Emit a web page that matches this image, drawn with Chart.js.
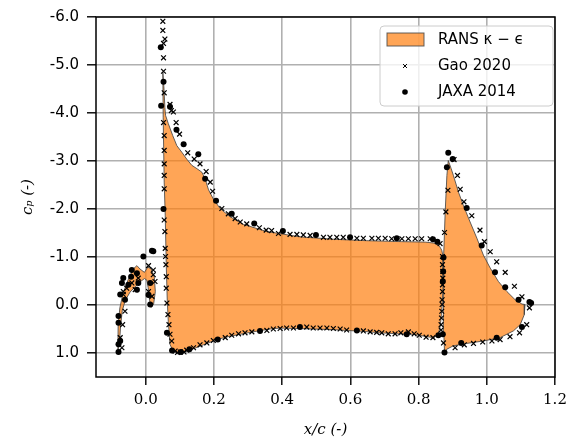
<!DOCTYPE html>
<html>
<head>
<meta charset="utf-8">
<script src="https://cdn.jsdelivr.net/npm/chart.js"></script>
<style>
  body { margin: 0; background: #fff; }
  #wrap { width: 575px; height: 441px; }
</style>
</head>
<body>
<div id="wrap"><canvas id="myChart"></canvas></div>
<script>
// RANS k-eps surface pressure, one closed outline per element
var slatX = [-0.082, -0.081, -0.076, -0.067, -0.052, -0.037, -0.026, -0.017, -0.004, 0.006, 0.016, 0.025, 0.028, 0.023, 0.016,
    0.011, 0.007, 0.003, -0.004, -0.017, -0.031, -0.046, -0.060, -0.069, -0.074, -0.077, -0.082];
var slatCp = [0.97, 0.41, 0.06, -0.24, -0.52, -0.75, -0.82, -0.75, -0.68, -0.79, -0.75, -0.58, -0.28, -0.02, 0.05,
    -0.10, -0.36, -0.52, -0.55, -0.48, -0.38, -0.27, -0.10, 0.12, 0.45, 0.78, 0.97];

var mainX = [0.050, 0.053, 0.056, 0.058, 0.066, 0.079, 0.091, 0.106, 0.120, 0.135, 0.150, 0.164, 0.174, 0.184, 0.198, 0.218,
    0.247, 0.286, 0.355, 0.452, 0.550, 0.648, 0.750, 0.820, 0.845, 0.860, 0.868, 0.872, 0.872, 0.869, 0.866, 0.862,
    0.856, 0.845, 0.824, 0.785, 0.740, 0.687, 0.640, 0.589, 0.540, 0.491, 0.440, 0.394, 0.365, 0.330, 0.306, 0.270,
    0.247, 0.208, 0.169, 0.130, 0.101, 0.088, 0.078, 0.071, 0.066, 0.063, 0.060, 0.057, 0.054, 0.051, 0.050];
var mainCp = [-4.85, -4.55, -4.11, -3.95, -3.78, -3.53, -3.32, -3.18, -3.04, -2.91, -2.84, -2.77, -2.63, -2.40, -2.21, -2.01,
    -1.84, -1.68, -1.53, -1.42, -1.37, -1.34, -1.32, -1.31, -1.29, -1.24, -1.14, -1.00, -0.40, 0.00, 0.27, 0.50,
    0.62, 0.68, 0.66, 0.61, 0.60, 0.58, 0.55, 0.53, 0.51, 0.50, 0.49, 0.48, 0.50, 0.54, 0.57, 0.62,
    0.65, 0.72, 0.83, 0.94, 1.01, 0.99, 0.93, 0.82, 0.34, -0.08, -0.84, -1.87, -2.56, -3.90, -4.85];

var flapX = [0.887, 0.895, 0.902, 0.917, 0.931, 0.951, 0.971, 0.990, 1.010, 1.034, 1.059, 1.083, 1.103, 1.112, 1.110,
    1.098, 1.078, 1.039, 0.990, 0.941, 0.902, 0.883, 0.876, 0.874, 0.873, 0.872, 0.876, 0.878, 0.883, 0.887];
var flapCp = [-3.01, -2.85, -2.70, -2.35, -2.08, -1.73, -1.39, -1.04, -0.77, -0.49, -0.28, -0.11, -0.02, -0.01, 0.20,
    0.41, 0.54, 0.68, 0.75, 0.80, 0.85, 0.92, 0.98, 0.60, 0.00, -0.84, -1.53, -1.94, -2.70, -3.01];

// Gao 2020 experiment
var gaoX = [0.050, 0.050, 0.056, 0.052, 0.052, 0.052, 0.054, 0.071, 0.075, 0.081, 0.052, 0.089, 0.099, 0.123, 0.142,
    0.159, 0.177, 0.189, 0.196, 0.223, 0.242, 0.262, 0.277, 0.296, 0.333, 0.353, 0.369, 0.389, 0.423, 0.443,
    0.462, 0.482, 0.521, 0.540, 0.560, 0.579, 0.619, 0.638, 0.663, 0.682, 0.702, 0.721, 0.751, 0.770, 0.790,
    0.809, 0.834, 0.863,
    0.054, 0.054, 0.054, 0.054, 0.054, 0.054, 0.056, 0.057, 0.058, 0.059, 0.060, 0.060, 0.062, 0.065, 0.068,
    0.071, 0.076, 0.086, 0.093, 0.101, 0.112, 0.120, 0.140, 0.159, 0.179, 0.198, 0.233, 0.252, 0.272, 0.291,
    0.311, 0.355, 0.374, 0.394, 0.413, 0.433, 0.472, 0.491, 0.511, 0.531, 0.550, 0.570, 0.589, 0.638, 0.658,
    0.677, 0.692, 0.711, 0.731, 0.748, 0.770, 0.787, 0.802, 0.822, 0.842,
    0.870, 0.870, 0.871, 0.871, 0.870, 0.870, 0.869, 0.869, 0.868, 0.867, 0.866, 0.866,
    0.886, 0.880, 0.876, 0.873,
    0.904, 0.914, 0.922, 0.933, 0.956, 0.980, 0.993, 1.010, 1.029, 1.054, 1.081, 1.103, 1.125,
    1.117, 1.096, 1.068, 1.039, 1.015, 0.988, 0.961, 0.934, 0.907,
    0.008, 0.022, 0.022, 0.027, -0.056, -0.066, -0.022, 0.018, 0.008, -0.061, -0.068, -0.075, -0.070, -0.031,
    -0.041, -0.066];
var gaoCp = [-5.91, -5.72, -5.54, -5.45, -5.15, -4.87, -4.42, -4.18, -4.05, -4.02, -3.80, -3.80, -3.56, -3.17, -3.04,
    -2.94, -2.78, -2.56, -2.37, -2.01, -1.90, -1.80, -1.73, -1.69, -1.61, -1.56, -1.55, -1.49, -1.47, -1.47,
    -1.46, -1.45, -1.41, -1.41, -1.41, -1.41, -1.39, -1.39, -1.39, -1.39, -1.39, -1.38, -1.38, -1.38, -1.38,
    -1.38, -1.38, -1.28,
    -3.53, -3.22, -2.94, -2.70, -2.42, -1.77, -1.53, -1.18, -1.01, -0.84, -0.59, -0.35, -0.04, 0.20, 0.41,
    0.61, 0.75, 0.96, 0.99, 0.98, 0.98, 0.94, 0.89, 0.83, 0.79, 0.74, 0.68, 0.63, 0.60, 0.58,
    0.56, 0.53, 0.50, 0.49, 0.48, 0.48, 0.46, 0.48, 0.48, 0.48, 0.49, 0.50, 0.52, 0.54, 0.56,
    0.57, 0.58, 0.60, 0.60, 0.58, 0.56, 0.60, 0.63, 0.67, 0.68,
    -1.01, -0.84, -0.70, -0.56, -0.42, -0.28, -0.11, -0.01, 0.13, 0.27, 0.41, 0.52,
    -2.39, -1.94, -1.51, 0.79,
    -3.03, -2.70, -2.41, -2.15, -1.86, -1.56, -1.32, -1.11, -0.90, -0.68, -0.39, -0.17, 0.06,
    0.41, 0.58, 0.66, 0.72, 0.75, 0.77, 0.80, 0.83, 0.89,
    -0.82, -0.73, -0.63, -0.49, -0.35, -0.22, -0.56, -0.18, -0.28, 0.13, 0.41, 0.68, 0.89, -0.32,
    -0.46, -0.28];

// JAXA 2014 experiment
var jaxaX = [0.044, 0.052, 0.045, 0.071, 0.090, 0.111, 0.154, 0.174, 0.206, 0.252, 0.318, 0.402, 0.499, 0.599, 0.736,
    0.842, 0.855, 0.052, 0.062, 0.077, 0.103, 0.128, 0.211, 0.335, 0.452, 0.619, 0.765, 0.858, 0.871, 0.876,
    0.873, 0.872, 0.871,
    0.887, 0.900, 0.883, 0.941, 0.985, 1.024, 1.054, 1.093, 1.125, 1.130, 1.103, 1.029, 0.925,
    -0.007, 0.018, 0.022, -0.041, -0.026, -0.043, -0.066, -0.070, -0.051, -0.022, -0.026, -0.061, -0.075, 0.013,
    0.008, 0.013, -0.080, -0.080, -0.075, -0.080, -0.080];
var jaxaCp = [-5.37, -4.65, -4.15, -4.13, -3.65, -3.35, -3.14, -2.63, -2.17, -1.90, -1.70, -1.54, -1.46, -1.41, -1.39,
    -1.37, -1.32, -2.00, 0.58, 0.95, 0.98, 0.92, 0.72, 0.54, 0.46, 0.53, 0.61, 0.63, 0.61, 0.99,
    -0.99, -0.70, -0.49,
    -3.17, -3.04, -2.87, -2.02, -1.24, -0.68, -0.37, -0.11, -0.06, -0.04, 0.46, 0.68, 0.79,
    -1.01, -1.13, -1.12, -0.73, -0.66, -0.59, -0.56, -0.46, -0.42, -0.46, -0.32, -0.11, -0.22, -0.46,
    -0.21, -0.01, 0.23, 0.37, 0.75, 0.82, 0.98];

var xTicks = [0.0, 0.2, 0.4, 0.6, 0.8, 1.0, 1.2];
var yTicks = [-6, -5, -4, -3, -2, -1, 0, 1];

function pts(xs, ys) {
    return xs.map(function (x, i) { return { x: x, y: ys[i] }; });
}

var ransFill = 'rgba(255,127,14,0.7)';
var ransEdge = 'rgba(70,70,70,0.85)';

function ransSet(xs, ys) {
    return {
        label: 'RANS \u03ba \u2212 \u03f5',
        data: pts(xs, ys),
        showLine: true,
        fill: 'shape',
        backgroundColor: ransFill,
        borderColor: ransEdge,
        borderWidth: 1,
        pointRadius: 0,
        tension: 0,
        order: 2
    };
}

// frame round the plot area, like the matplotlib spines
var frame = {
    id: 'frame',
    afterDatasetsDraw: function (chart) {
        var a = chart.chartArea, ctx = chart.ctx;
        ctx.save();
        ctx.strokeStyle = '#000';
        ctx.lineWidth = 1.5;
        ctx.strokeRect(a.left, a.top, a.right - a.left, a.bottom - a.top);
        ctx.restore();
    }
};

// legend inside the axes, top right
var legendBox = {
    id: 'legendBox',
    afterDraw: function (chart) {
        var a = chart.chartArea, ctx = chart.ctx;
        var x0 = a.right - 175, y0 = a.top + 9, w = 173, h = 80;
        ctx.save();
        ctx.beginPath();
        ctx.roundRect(x0, y0, w, h, 4);
        ctx.fillStyle = 'rgba(255,255,255,0.8)';
        ctx.fill();
        ctx.strokeStyle = '#cccccc';
        ctx.lineWidth = 1;
        ctx.stroke();

        var ds = chart.data.datasets;
        ctx.fillStyle = ransFill;
        ctx.fillRect(x0 + 7, y0 + 7, 37, 13);
        ctx.strokeStyle = ransEdge;
        ctx.strokeRect(x0 + 7, y0 + 7, 37, 13);
        ctx.strokeStyle = '#000';
        Chart.helpers.drawPoint(ctx, { pointStyle: 'crossRot', radius: 2.8, borderWidth: 1.2 }, x0 + 25, y0 + 40);
        ctx.fillStyle = '#000';
        ctx.beginPath();
        ctx.arc(x0 + 25, y0 + 66, 2.8, 0, Math.PI * 2);
        ctx.fill();

        ctx.font = '15px "DejaVu Sans"';
        ctx.textBaseline = 'middle';
        ctx.fillStyle = '#000';
        ctx.fillText(ds[2].label, x0 + 58, y0 + 14);
        ctx.fillText(ds[0].label, x0 + 58, y0 + 40);
        ctx.fillText(ds[1].label, x0 + 58, y0 + 66);
        ctx.restore();
    }
};

var ctx = document.getElementById('myChart').getContext('2d');
var chart = new Chart(ctx, {
    type: 'scatter',
    data: {
        datasets: [
            {
                label: 'Gao 2020',
                data: pts(gaoX, gaoCp),
                pointStyle: 'crossRot',
                pointRadius: 3.4,
                borderWidth: 1.2,
                borderColor: '#000',
                backgroundColor: '#000',
                order: 0
            },
            {
                label: 'JAXA 2014',
                data: pts(jaxaX, jaxaCp),
                pointStyle: 'circle',
                pointRadius: 3,
                borderWidth: 0,
                backgroundColor: '#000',
                order: 1
            },
            ransSet(slatX, slatCp),
            ransSet(mainX, mainCp),
            ransSet(flapX, flapCp)
        ]
    },
    options: {
        responsive: true,
        maintainAspectRatio: false,
        animation: false,
        events: [],
        layout: {
            padding: { left: 0, top: 13, right: 20, bottom: 0 }
        },
        plugins: {
            legend: { display: false },
            tooltip: { enabled: false }
        },
        scales: {
            x: {
                type: 'linear',
                min: -0.146,
                max: 1.2,
                afterBuildTicks: function (scale) {
                    scale.ticks = xTicks.map(function (v) { return { value: v }; });
                },
                afterFit: function (scale) { scale.height = 64; },
                border: { display: false },
                grid: {
                    color: '#b0b0b0',
                    lineWidth: 1.6,
                    tickColor: '#000',
                    tickLength: 8,
                    tickWidth: 1.4
                },
                ticks: {
                    color: '#000',
                    padding: 6,
                    font: { family: '"DejaVu Serif"', size: 15 },
                    callback: function (v) { return Number(v).toFixed(1); }
                },
                title: {
                    display: true,
                    text: 'x/c (-)',
                    color: '#000',
                    font: { family: '"DejaVu Serif"', size: 15, style: 'italic' },
                    padding: { top: 0, bottom: 2 }
                }
            },
            y: {
                type: 'linear',
                reverse: true,
                min: -6,
                max: 1.5,
                afterBuildTicks: function (scale) {
                    scale.ticks = yTicks.map(function (v) { return { value: v }; });
                },
                afterFit: function (scale) { scale.width = 96; },
                border: { display: false },
                grid: {
                    color: '#b0b0b0',
                    lineWidth: 1.6,
                    tickColor: '#000',
                    tickLength: 9,
                    tickWidth: 1.4
                },
                ticks: {
                    color: '#000',
                    padding: 8,
                    font: { family: '"DejaVu Sans"', size: 15 },
                    callback: function (v) { return Number(v).toFixed(1); }
                },
                title: {
                    display: true,
                    text: 'c\u209a (-)',
                    color: '#000',
                    font: { family: '"DejaVu Serif"', size: 15, style: 'italic' },
                    padding: { top: 19, bottom: 0 }
                }
            }
        }
    },
    plugins: [frame, legendBox]
});
</script>
</body>
</html>
